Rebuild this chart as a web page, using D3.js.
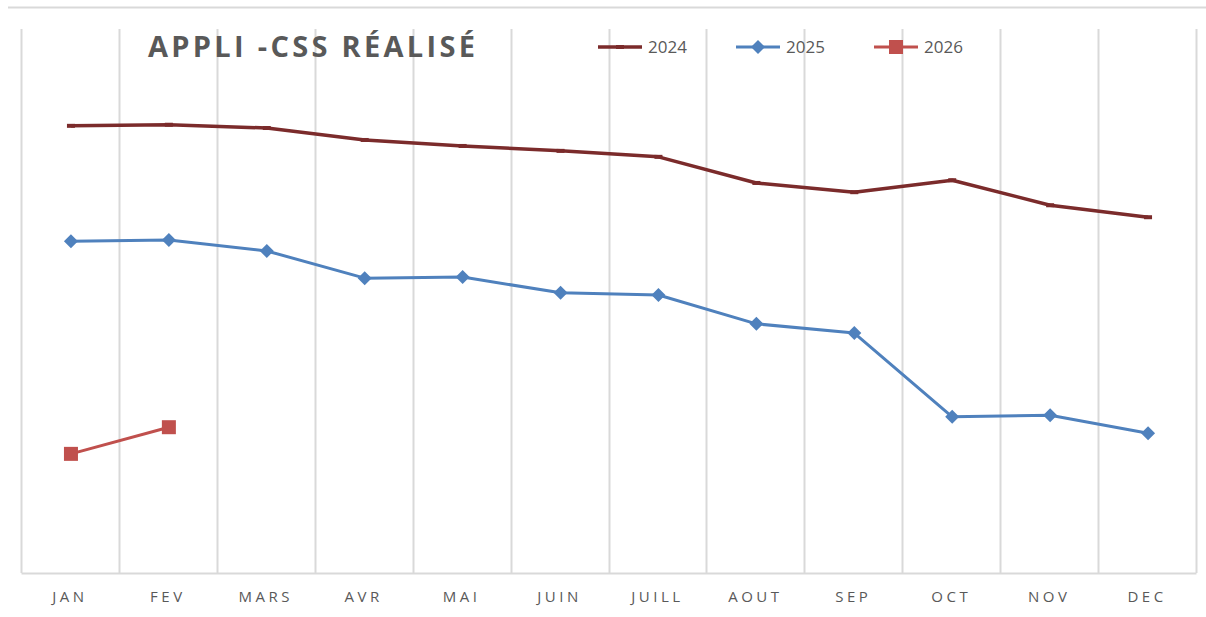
<!DOCTYPE html>
<html>
<head>
<meta charset="utf-8">
<script src="https://cdn.jsdelivr.net/npm/d3@7"></script>
<style>
  body { margin: 0; background: #fff; }
  svg { display: block; font-family: 'Open Sans', 'Liberation Sans', sans-serif; }
</style>
</head>
<body>
<svg id="canvas"></svg>
<script>
const months = ['JAN', 'FEV', 'MARS', 'AVR', 'MAI', 'JUIN', 'JUILL', 'AOUT', 'SEP', 'OCT', 'NOV', 'DEC'];
const values2024 = [82.2, 82.4, 81.8, 79.6, 78.5, 77.6, 76.5, 71.7, 70.0, 72.2, 67.6, 65.4];
const values2025 = [61.0, 61.2, 59.2, 54.2, 54.4, 51.5, 51.1, 45.8, 44.1, 28.7, 29.0, 25.7];
const values2026 = [21.9, 26.8];
const seriesNames = ['2024', '2025', '2026'];

const width = 1206;
const height = 617;
const margin = { left: 21, right: 10, top: 29, bottom: 44 };

const svg = d3.select('#canvas')
  .attr('width', width)
  .attr('height', height);

// frame line at the top
svg.append('line')
  .attr('x1', 8).attr('x2', 1206)
  .attr('y1', 7.5).attr('y2', 7.5)
  .attr('stroke', '#d9d9d9')
  .attr('stroke-width', 2);

const xScale = d3.scaleBand()
  .domain(months)
  .range([margin.left, width - margin.right]);

const yScale = d3.scaleLinear()
  .domain([0, 100])
  .range([height - margin.bottom, margin.top]);

// vertical gridlines at category boundaries
const bounds = months.map(m => xScale(m)).concat([xScale.range()[1]]);
svg.append('g')
  .selectAll('line')
  .data(bounds)
  .enter()
  .append('line')
  .attr('x1', d => Math.round(d) + 0.5)
  .attr('x2', d => Math.round(d) + 0.5)
  .attr('y1', margin.top)
  .attr('y2', height - margin.bottom)
  .attr('stroke', '#d9d9d9')
  .attr('stroke-width', 2);

// x axis
const xAxis = d3.axisBottom(xScale).tickSize(0).tickPadding(18);
const gx = svg.append('g')
  .attr('transform', 'translate(0,' + (height - margin.bottom) + ')')
  .call(xAxis);
gx.select('.domain')
  .attr('stroke', '#d9d9d9')
  .attr('stroke-width', 2);
gx.selectAll('text')
  .attr('fill', '#595959')
  .style('font-size', '15px')
  .style('letter-spacing', '3.5px')
  .style('font-family', "'Open Sans', sans-serif");

const cx = (d, i) => xScale(months[i]) + xScale.bandwidth() / 2 + 1;
const line = d3.line()
  .x(cx)
  .y(d => yScale(d));

const series = [
  { name: '2024', values: values2024, color: '#7b2b2b', width: 3.5, marker: 'dash' },
  { name: '2025', values: values2025, color: '#4f81bd', width: 3, marker: 'diamond' },
  { name: '2026', values: values2026, color: '#c0504d', width: 3, marker: 'square' }
];

const drawMarker = (g, marker, color) => {
  if (marker === 'dash') {
    g.append('rect').attr('x', -4).attr('y', -2).attr('width', 8).attr('height', 4).attr('fill', color);
  } else if (marker === 'diamond') {
    g.append('path').attr('d', 'M0,-7L7,0L0,7L-7,0Z').attr('fill', color);
  } else {
    g.append('rect').attr('x', -7).attr('y', -7).attr('width', 14).attr('height', 14).attr('fill', color);
  }
};

series.forEach(s => {
  svg.append('path')
    .datum(s.values)
    .attr('d', line)
    .attr('fill', 'none')
    .attr('stroke', s.color)
    .attr('stroke-width', s.width)
    .attr('stroke-linejoin', 'round');

  s.values.forEach((v, i) => {
    const g = svg.append('g').attr('transform', 'translate(' + cx(v, i) + ',' + yScale(v) + ')');
    drawMarker(g, s.marker, s.color);
  });
});

// title
svg.append('text')
  .attr('x', 148)
  .attr('y', 57)
  .attr('fill', '#595959')
  .style('font-size', '29px')
  .style('font-weight', 'bold')
  .style('letter-spacing', '3.3px')
  .text('APPLI -CSS RÉALISÉ');

// legend
const legendX = [598, 736, 874];
series.forEach((s, i) => {
  const g = svg.append('g').attr('transform', 'translate(' + legendX[i] + ',47)');
  g.append('line')
    .attr('x1', 0).attr('x2', 44)
    .attr('stroke', s.color)
    .attr('stroke-width', s.width);
  const m = g.append('g').attr('transform', 'translate(22,0)');
  drawMarker(m, s.marker, s.color);
  g.append('text')
    .attr('x', 50)
    .attr('y', 6)
    .attr('fill', '#595959')
    .style('font-size', '17px')
    .text(seriesNames[i]);
});
</script>
</body>
</html>
